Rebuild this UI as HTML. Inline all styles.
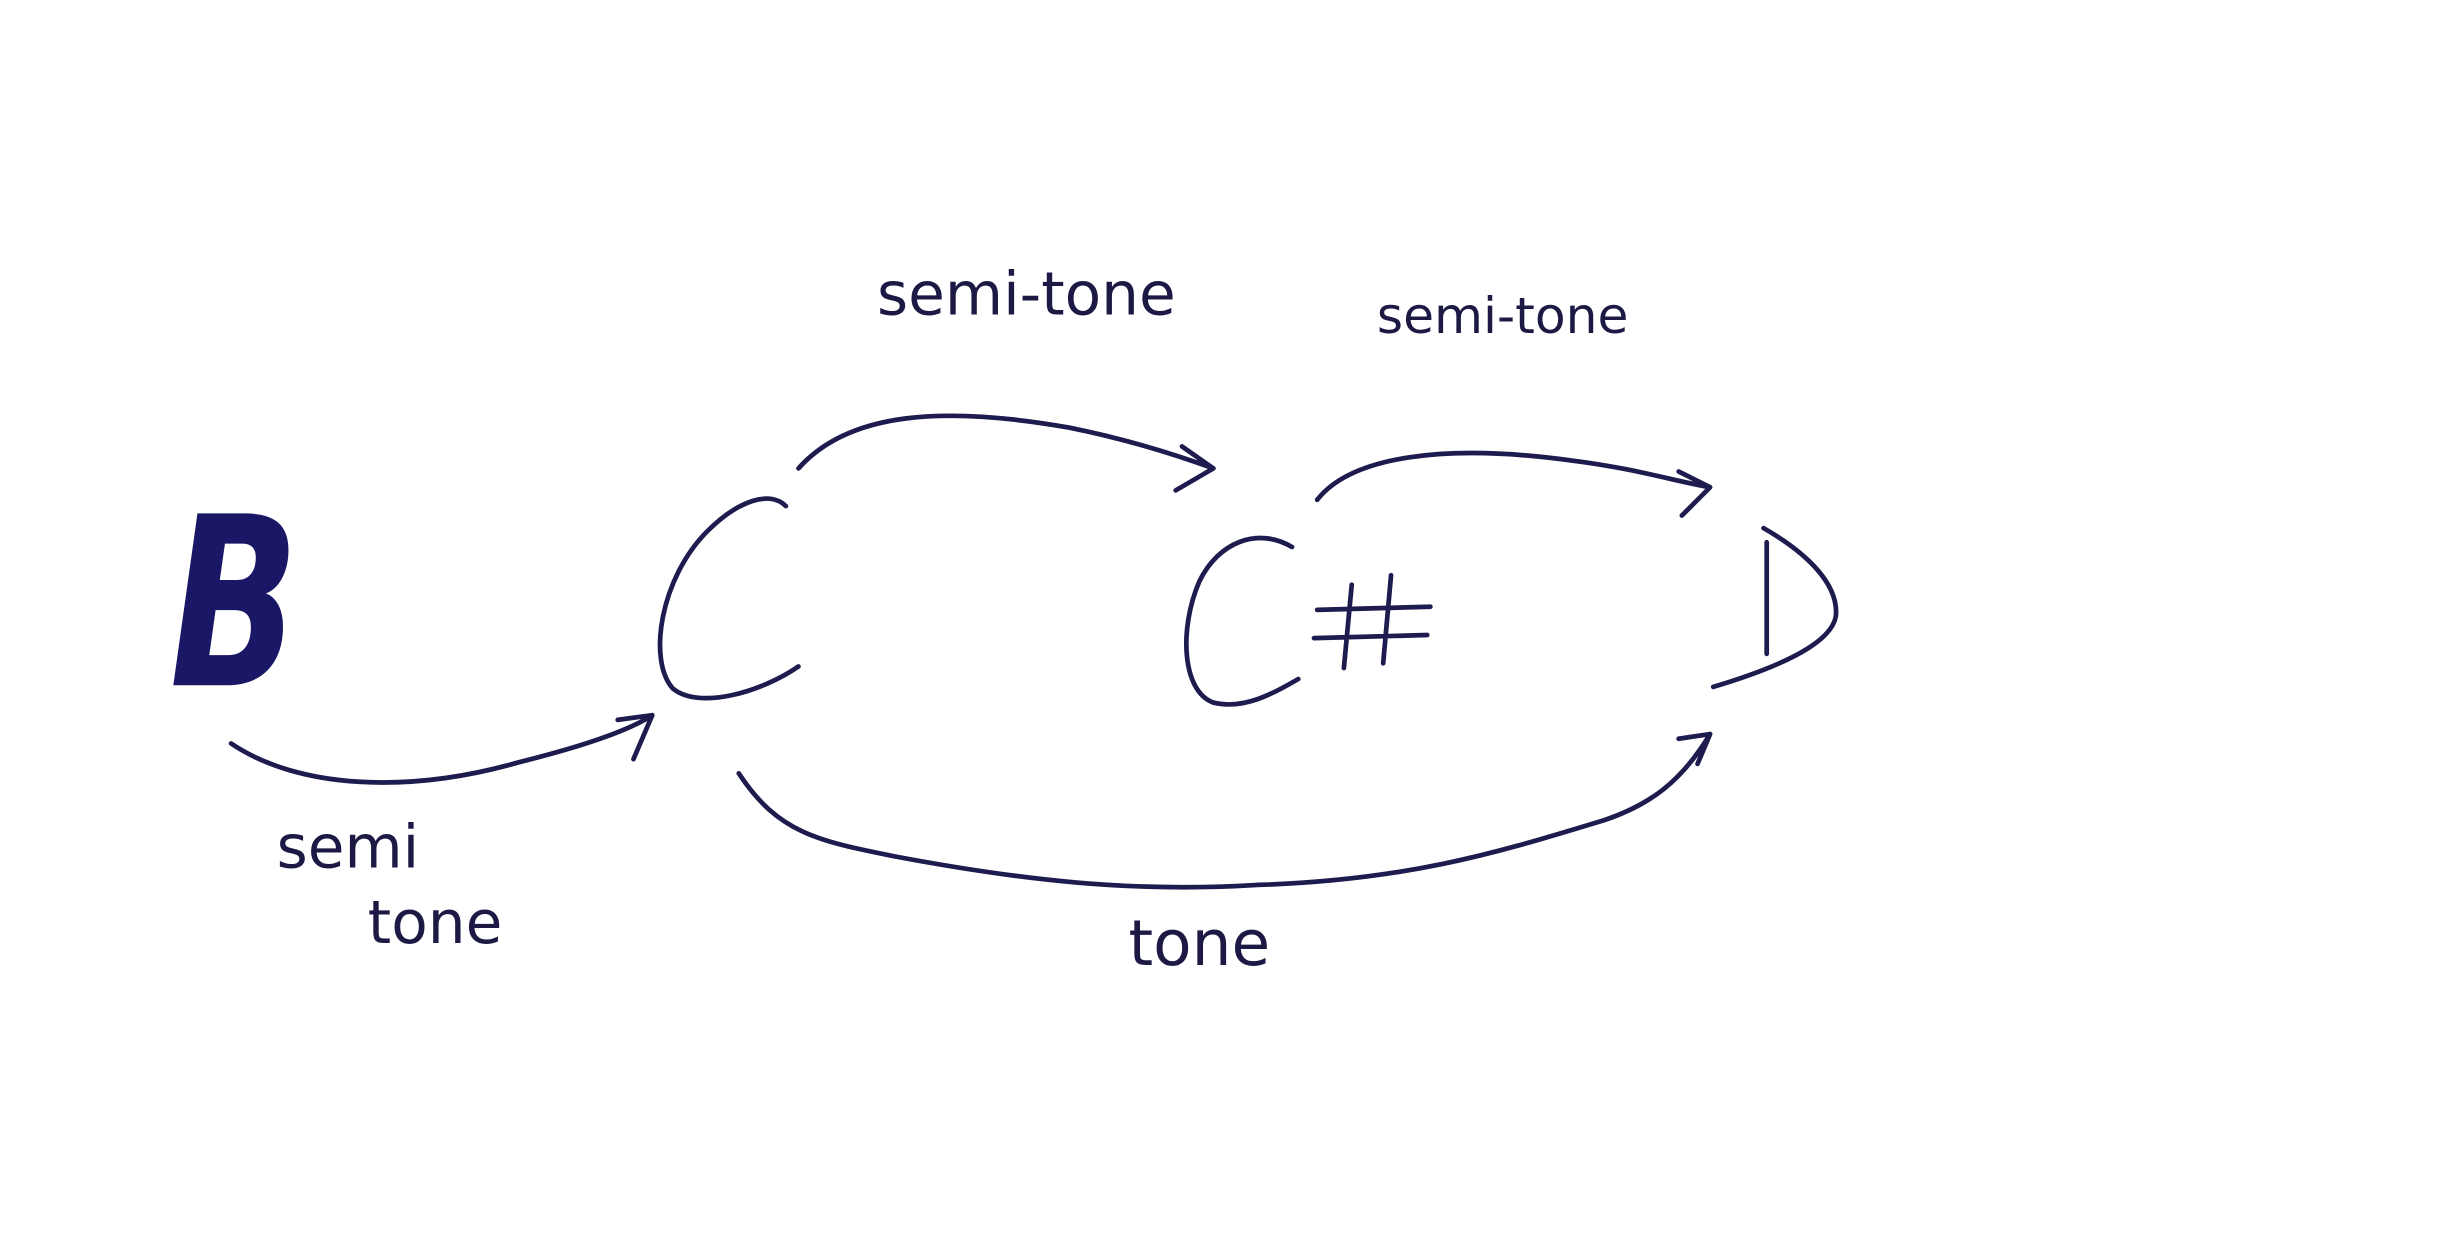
<!DOCTYPE html>
<html><head><meta charset="utf-8"><style>
html,body{margin:0;padding:0;background:#fff;}
svg{display:block;}
text{font-family:"DejaVu Sans","Liberation Sans",sans-serif;fill:#1c1a45;font-style:italic;}
</style></head><body>
<svg width="2452" height="1248" viewBox="0 0 1560 794" preserveAspectRatio="none" xmlns="http://www.w3.org/2000/svg">
<rect width="1560" height="794" fill="#ffffff"/>
<g fill="none" stroke="#1e1b4e" stroke-width="3" stroke-linecap="round" stroke-linejoin="round">
<path d="M500 322 C490 312 470 318 450 338 C420 368 412 420 428 438 C445 452 485 440 508 424"/>
<path d="M822 348 C800 335 775 345 763 370 C750 400 752 440 772 447 C792 452 812 440 826 432"/>
<path d="M860 372 L855 425 M885 366 L880 422 M838 388 L910 386 M836 406 L908 404"/>
<path d="M1124 345 L1124 416 M1122 336 C1150 352 1170 372 1168 392 C1165 410 1130 425 1090 437"/>
<path d="M508 298 C540 262 600 258 680 272 C720 280 750 290 772 298 M752 284 L772 298 L748 312"/>
<path d="M838 318 C860 290 920 282 1000 293 C1040 298 1065 306 1088 310 M1068 300 L1088 310 L1070 328"/>
<path d="M147 473 C190 502 260 505 330 485 C370 475 400 465 415 455 M393 458 L415 455 L403 483"/>
<path d="M470 492 C495 530 520 535 570 545 C650 560 720 568 800 563 C900 560 960 540 1020 522 C1050 512 1070 497 1088 467 M1068 470 L1088 467 L1080 486"/>
</g>
<text transform="translate(108 436) scale(0.72 1)" font-size="150" font-weight="bold" style="font-style:italic;fill:#1a1866">B</text>
<text x="558" y="200" font-size="38" style="font-style:normal">semi-tone</text>
<text x="876" y="212" font-size="32" style="font-style:normal">semi-tone</text>
<text x="176" y="552" font-size="38" style="font-style:normal">semi</text>
<text x="234" y="600" font-size="38" style="font-style:normal">tone</text>
<text x="718" y="614" font-size="40" style="font-style:normal">tone</text>
</svg>
</body></html>
